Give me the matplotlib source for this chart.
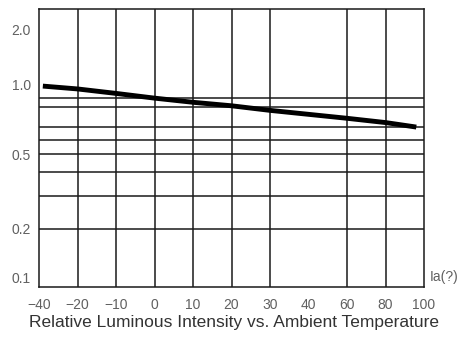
import numpy as np
import matplotlib
matplotlib.use("Agg")
import matplotlib.pyplot as plt

# x axis is not linear: the ticks are spaced evenly whatever their value
temp_ticks = [-40, -20, -10, 0, 10, 20, 30, 40, 60, 80, 100]
temp_labels = ["\u221240", "\u221220", "\u221210", "0", "10", "20", "30", "40", "60", "80", "100"]
grid_temps = [-20, -10, 0, 10, 20, 30, 60, 80]  # no line at 40 in the original

# horizontal rules (log scale)
grid_levels = [1.0, 0.9, 0.7, 0.6, 0.5, 0.4, 0.3, 0.2]
ytick_labels = ["2.0", "1.0", "0.5", "0.2", "0.1"]

# curve
temp = [-38, -20, -10, 0, 10, 20, 30, 60, 80, 96]
rel_intensity = [1.16, 1.12, 1.06, 1.0, 0.95, 0.91, 0.86, 0.78, 0.74, 0.70]

# where the y labels sit in the scan (they are not on their rules)
ytick_pos = [2.34, 1.19, 0.5, 0.2, 0.109]


def to_pos(t):
    return np.interp(t, temp_ticks, np.arange(len(temp_ticks)))


plt.rcParams["font.family"] = ["Liberation Sans", "DejaVu Sans"]

fig = plt.figure(figsize=(4.69, 3.45), dpi=100)
ax = fig.add_axes([39 / 469, 1 - 287 / 345, (424 - 39) / 469, (287 - 9) / 345])

ax.set_yscale("log")
ax.set_xlim(0, len(temp_ticks) - 1)
ax.set_ylim(0.0975, 3.0)

for t in grid_temps:
    ax.axvline(to_pos(t), color="#1a1a1a", lw=1.1, zorder=1)
for v in grid_levels:
    ax.axhline(v, color="#1a1a1a", lw=1.1, zorder=1)

ax.plot(to_pos(temp), rel_intensity, color="black", lw=3.5,
        solid_capstyle="butt", zorder=3)

ax.set_xticks(np.arange(len(temp_ticks)))
ax.set_xticklabels(temp_labels)
ax.yaxis.set_minor_locator(matplotlib.ticker.NullLocator())
ax.set_yticks(ytick_pos)
ax.set_yticklabels(ytick_labels)
ax.tick_params(axis="both", length=0, labelsize=10, labelcolor="#606060")
ax.tick_params(axis="x", pad=8)
ax.tick_params(axis="y", pad=6)

for s in ax.spines.values():
    s.set_color("#1a1a1a")
    s.set_linewidth(1.1)

ax.text(1.015, 0.035, "Ia(?)", transform=ax.transAxes, fontsize=10,
        color="#606060", ha="left", va="center")

fig.text(234 / 469, 1 - 327 / 345, "Relative Luminous Intensity vs. Ambient Temperature",
         ha="center", va="baseline", fontsize=12.5, color="#333333")

fig.savefig("out.png", dpi=100)
